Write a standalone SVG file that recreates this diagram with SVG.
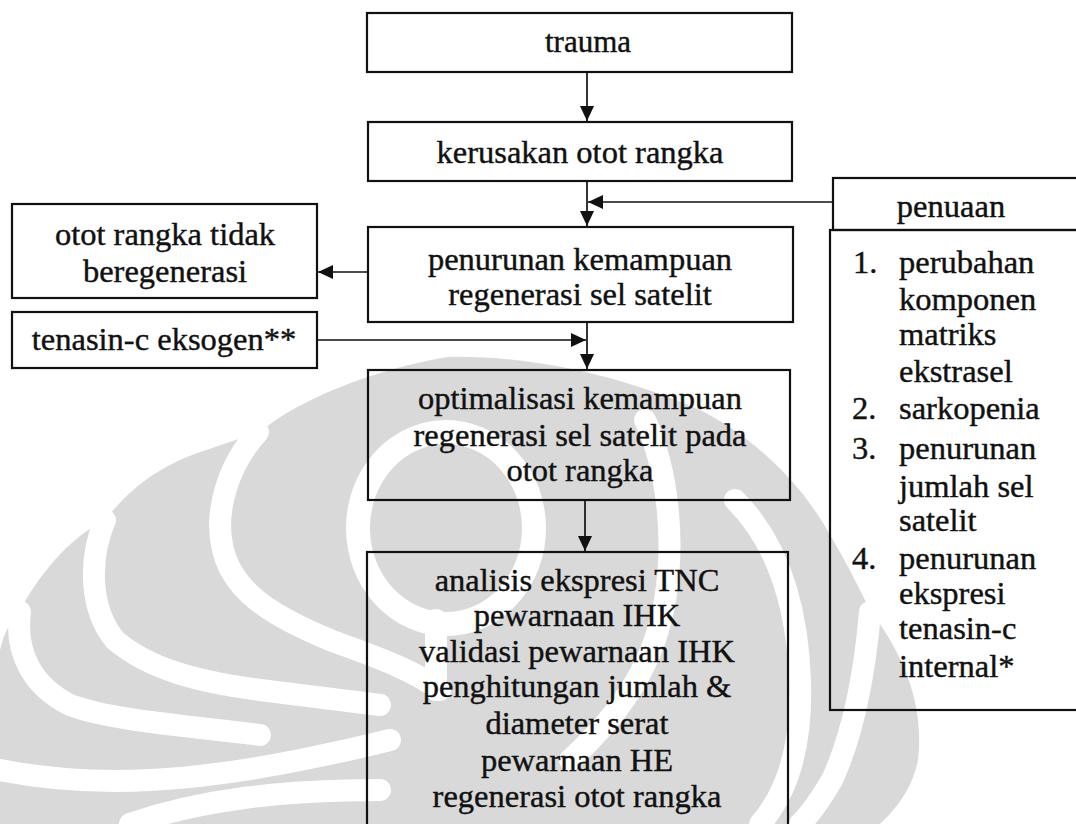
<svg xmlns="http://www.w3.org/2000/svg" width="1076" height="824" viewBox="0 0 1076 824">
  <style>
    .box { fill: none; stroke: #111; stroke-width: 2.2; }
    .t { font-family: "Liberation Serif", "Times New Roman", serif; font-size: 32.5px; fill: #111; stroke: #111; stroke-width: 0.4; }
    .c { text-anchor: middle; }
    .conn { stroke: #111; stroke-width: 1.7; fill: none; }
    .wm { fill: #d9d9d9; }
    .wb { fill: none; stroke: #fff; stroke-width: 22; stroke-linecap: round; }
  </style>
  <defs>
    <marker id="ah" markerUnits="userSpaceOnUse" markerWidth="15" markerHeight="14" refX="15" refY="7" orient="auto">
      <path d="M0,0 L15,7 L0,14 Z" fill="#111"/>
    </marker>
  </defs>
  <rect x="0" y="0" width="1076" height="824" fill="#fff"/>

  <g id="watermark">
    <path class="wm" d="M447,357 C530,355 620,375 700,410 C750,435 800,480 830,535 C848,565 860,590 870,610 C900,650 925,700 918,760 C912,790 895,810 880,824 L0,824 L0,650 C5,630 12,618 20,610 C45,565 75,535 105,520 C125,495 150,470 200,452 C230,442 245,437 262,430 C300,400 370,370 447,357 Z"/>
    <path class="wb" d="M258,432 C228,465 215,510 222,545 C230,590 270,615 330,640 C370,655 410,668 440,690"/>
    <path class="wb" d="M105,520 C88,560 90,610 115,640 C150,670 200,682 260,690 C300,695 340,700 380,705"/>
    <path class="wb" d="M20,612 C15,650 30,685 70,705 C110,720 180,725 260,735"/>
    <path class="wb" d="M0,770 C100,790 200,780 300,760 C340,752 370,745 390,740"/>
    <path class="wb" d="M130,824 C200,800 280,790 380,790"/>
    <ellipse cx="446" cy="528" rx="88" ry="96" fill="none" stroke="#fff" stroke-width="24"/>
    <path class="wb" d="M436,620 L436,690"/>
    <path class="wb" d="M645,420 C668,470 675,540 665,600 C655,660 625,710 570,760"/>
    <path class="wb" d="M735,500 C775,540 797,600 800,680 C802,740 790,790 760,824"/>
    <path class="wb" d="M870,612 C865,670 855,730 832,780 C820,800 810,815 800,824"/>
  </g>

  <g id="connectors">
    <line class="conn" x1="587" y1="72" x2="587" y2="121" marker-end="url(#ah)"/>
    <line class="conn" x1="587" y1="181" x2="587" y2="226" marker-end="url(#ah)"/>
    <line class="conn" x1="833" y1="202" x2="588" y2="202" marker-end="url(#ah)"/>
    <line class="conn" x1="368" y1="272" x2="318" y2="272" marker-end="url(#ah)"/>
    <line class="conn" x1="587" y1="322" x2="587" y2="369" marker-end="url(#ah)"/>
    <line class="conn" x1="317" y1="340" x2="586" y2="340" marker-end="url(#ah)"/>
    <line class="conn" x1="585" y1="500" x2="585" y2="551" marker-end="url(#ah)"/>
  </g>

  <g id="trauma">
    <rect class="box" x="367" y="13" width="425" height="59"/>
    <text class="t c" x="588" y="52" style="font-size:31px">trauma</text>
  </g>
  <g id="kerusakan">
    <rect class="box" x="368" y="122" width="424" height="59"/>
    <text class="t c" x="580" y="163">kerusakan otot rangka</text>
  </g>
  <g id="penurunan">
    <rect class="box" x="368" y="227" width="425" height="95"/>
    <text class="t c" x="580" y="270">penurunan kemampuan</text>
    <text class="t c" x="580" y="305">regenerasi sel satelit</text>
  </g>
  <g id="tidak-beregenerasi">
    <rect class="box" x="12" y="204" width="305" height="94"/>
    <text class="t c" x="165" y="245">otot rangka tidak</text>
    <text class="t c" x="165" y="282">beregenerasi</text>
  </g>
  <g id="tenasin-eksogen">
    <rect class="box" x="12" y="312" width="305" height="56"/>
    <text class="t c" x="164" y="350">tenasin-c eksogen**</text>
  </g>
  <g id="optimalisasi">
    <rect class="box" x="368" y="370" width="422" height="130"/>
    <text class="t c" x="580" y="409">optimalisasi kemampuan</text>
    <text class="t c" x="580" y="446">regenerasi sel satelit pada</text>
    <text class="t c" x="580" y="481">otot rangka</text>
  </g>
  <g id="analisis">
    <rect class="box" x="367" y="552" width="421" height="300"/>
    <text class="t c" x="577" y="591">analisis ekspresi TNC</text>
    <text class="t c" x="577" y="626">pewarnaan IHK</text>
    <text class="t c" x="577" y="662">validasi pewarnaan IHK</text>
    <text class="t c" x="577" y="697">penghitungan jumlah &amp;</text>
    <text class="t c" x="577" y="734">diameter serat</text>
    <text class="t c" x="577" y="771">pewarnaan HE</text>
    <text class="t c" x="577" y="807">regenerasi otot rangka</text>
  </g>
  <g id="penuaan">
    <rect class="box" x="833" y="178" width="260" height="52"/>
    <text class="t c" x="951" y="217">penuaan</text>
  </g>
  <g id="penuaan-list">
    <rect class="box" x="830" y="230" width="260" height="480"/>
    <text class="t" x="853" y="273">1.</text>
    <text class="t" x="899" y="273">perubahan</text>
    <text class="t" x="899" y="310">komponen</text>
    <text class="t" x="899" y="345">matriks</text>
    <text class="t" x="899" y="382">ekstrasel</text>
    <text class="t" x="852" y="419">2.</text>
    <text class="t" x="899" y="419">sarkopenia</text>
    <text class="t" x="852" y="459">3.</text>
    <text class="t" x="899" y="459">penurunan</text>
    <text class="t" x="899" y="497">jumlah sel</text>
    <text class="t" x="899" y="531">satelit</text>
    <text class="t" x="852" y="569">4.</text>
    <text class="t" x="899" y="569">penurunan</text>
    <text class="t" x="899" y="604">ekspresi</text>
    <text class="t" x="899" y="639">tenasin-c</text>
    <text class="t" x="899" y="677">internal*</text>
  </g>
</svg>
